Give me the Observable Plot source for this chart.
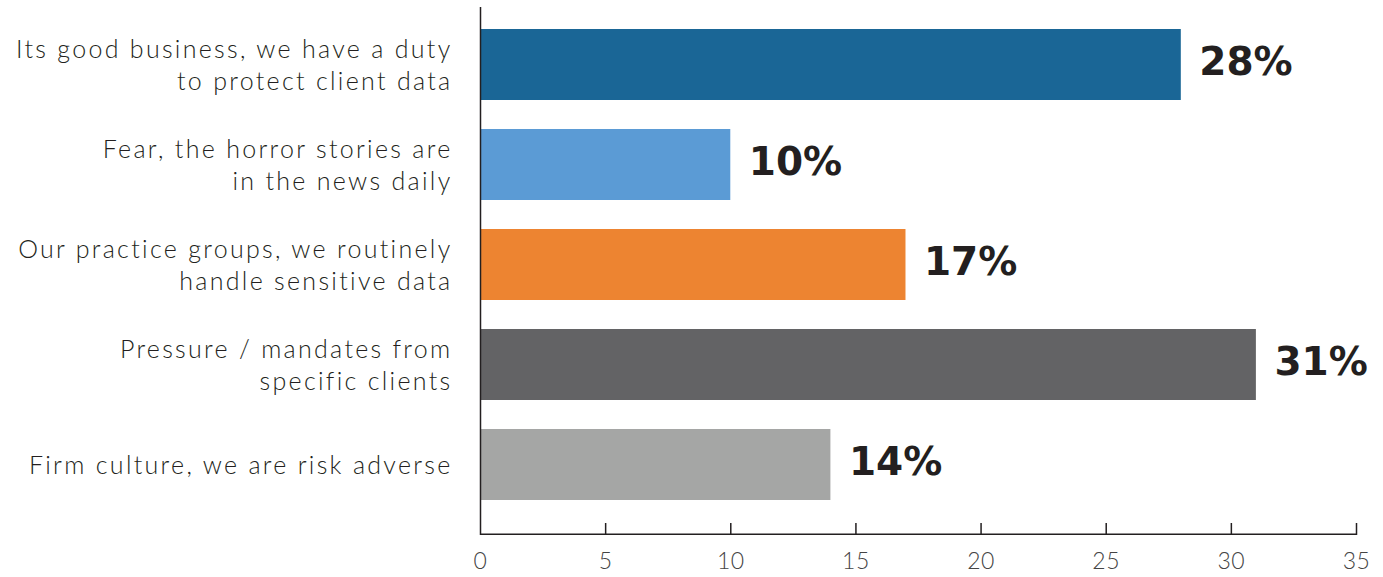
<!DOCTYPE html>
<html>
<head>
<meta charset="utf-8">
<script src="https://cdn.jsdelivr.net/npm/d3@7"></script>
<script src="https://cdn.jsdelivr.net/npm/@observablehq/plot@0.6"></script>
<style>
  html, body { margin: 0; padding: 0; background: #fff; }
  #chart svg { display: block; }
  g[aria-label="y-axis tick label"] text { letter-spacing: 2.3px; }
  g[aria-label="x-axis tick label"] text { letter-spacing: 0.5px; }
</style>
</head>
<body>
<div id="chart"></div>
<script>
const categories = [
  "Its good business, we have a duty\nto protect client data",
  "Fear, the horror stories are\nin the news daily",
  "Our practice groups, we routinely\nhandle sensitive data",
  "Pressure / mandates from\nspecific clients",
  "Firm culture, we are risk adverse"
];
const values = [28, 10, 17, 31, 14];
const colors = ["#1a6696", "#5b9bd5", "#ed8431", "#636365", "#a5a6a5"];
const xTicks = [0, 5, 10, 15, 20, 25, 30, 35];

const data = categories.map((c, i) => ({category: c, value: values[i], color: colors[i]}));

const W = 1383, H = 577;
const mTop = 7, mBottom = 42, mLeft = 480, mRight = 27;
const frameH = H - mTop - mBottom;
const ink = "#231f20";

const chart = Plot.plot({
  width: W,
  height: H,
  marginTop: mTop,
  marginBottom: mBottom,
  marginLeft: mLeft,
  marginRight: mRight,
  style: {fontFamily: "Lato, sans-serif", color: ink, background: "#fff"},
  x: {domain: [0, 35], ticks: xTicks},
  y: {domain: categories, paddingInner: 0.292, paddingOuter: 0.278, align: 0.38},
  marks: [
    Plot.barX(data, {x: "value", y: "category", fill: "color"}),
    Plot.ruleX([0], {stroke: ink, strokeWidth: 1.5}),
    Plot.rect([0], {x1: 0, x2: 35, fill: ink, insetTop: frameH - 1.5}),
    Plot.ruleX(xTicks.slice(1), {x: d => d, stroke: ink, strokeWidth: 1.5, insetTop: frameH - 12}),
    Plot.axisX({
      ticks: xTicks, tickSize: 0, tickPadding: 17, label: null,
      fontSize: 23, fontWeight: 300, fill: "#444"
    }),
    Plot.axisY({
      tickSize: 0, tickPadding: 28, label: null,
      fontSize: 25, fontWeight: 300, fill: ink, lineHeight: 1.26, dy: -1
    }),
    Plot.text(data, {
      x: "value", y: "category", text: d => `${d.value}%`,
      dx: 18, dy: -2, textAnchor: "start", fontSize: 39, fontWeight: "bold",
      fontFamily: "DejaVu Sans", fill: ink
    })
  ]
});
document.getElementById("chart").appendChild(chart);
</script>
</body>
</html>
